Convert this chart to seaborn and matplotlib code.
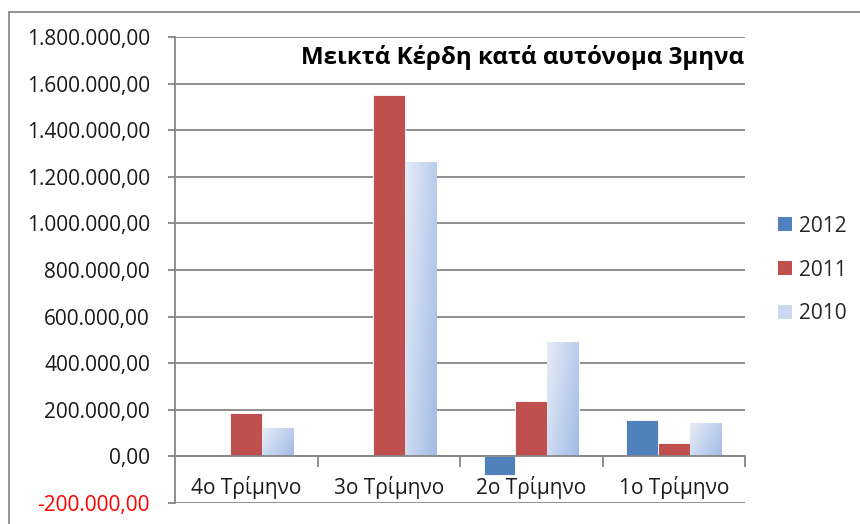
import numpy as np
import pandas as pd
import matplotlib
matplotlib.use("Agg")
import matplotlib.pyplot as plt
import seaborn as sns
from matplotlib.colors import LinearSegmentedColormap
from matplotlib.patches import Rectangle, Patch
from matplotlib.ticker import FuncFormatter, FixedLocator

# chart data
quarters = ["4ο Τρίμηνο", "3ο Τρίμηνο", "2ο Τρίμηνο", "1ο Τρίμηνο"]
years = ["2012", "2011", "2010"]
profit_2012 = [np.nan, np.nan, -81000, 157000]
profit_2011 = [188000, 1550000, 236000, 57000]
profit_2010 = [119000, 1258000, 488000, 140000]
y_ticks = list(range(-200000, 1800001, 200000))
title = "Μεικτά Κέρδη κατά αυτόνομα 3μηνα"

colors = ["#4F81BD", "#C0504D", "#C9D7EF"]
grid_color = "#868686"


def greek_number(v, pos=None):
    # 1,800,000.00 -> 1.800.000,00
    s = "{:,.2f}".format(v)
    return s.replace(",", "X").replace(".", ",").replace("X", ".")


# long-form table for seaborn
df = pd.DataFrame({
    "quarter": quarters * 3,
    "year": [y for y in years for _ in quarters],
    "profit": profit_2012 + profit_2011 + profit_2010,
})

sns.set_style("white")
plt.rcParams["font.family"] = ["Open Sans", "DejaVu Sans"]

fig = plt.figure(figsize=(8.6, 5.24), dpi=100)
ax = fig.add_axes([175 / 860, 1 - 503 / 524, (745 - 175) / 860, (503 - 37) / 524])

sns.barplot(data=df, x="quarter", y="profit", hue="year", order=quarters,
            hue_order=years, palette=colors, saturation=1, width=0.67,
            edgecolor="white", linewidth=0.6, ax=ax, legend=False)

# gradient fill for the 2010 bars
cmap = LinearSegmentedColormap.from_list("grad", ["#E6EDF7", "#A3BBE6"])
gx, gy = np.meshgrid(np.linspace(0, 1, 60), np.linspace(0, 1, 60))
grad = 0.65 * gx + 0.35 * gy
for bar in ax.containers[2]:
    x0, y0 = bar.get_x(), bar.get_y()
    w, h = bar.get_width(), bar.get_height()
    ax.imshow(grad, cmap=cmap, extent=(x0, x0 + w, y0, y0 + h),
              aspect="auto", origin="upper", zorder=bar.get_zorder() + 0.1)

# axes styling
ax.set_xlim(-0.5, 3.5)
ax.set_ylim(-200000, 1800000)
ax.yaxis.set_major_locator(FixedLocator(y_ticks))
ax.yaxis.set_major_formatter(FuncFormatter(greek_number))
ax.grid(axis="y", color=grid_color, linewidth=1.3)
ax.set_axisbelow(True)
for s in ["top", "right"]:
    ax.spines[s].set_visible(False)
ax.spines["left"].set_color(grid_color)
ax.spines["left"].set_linewidth(1.3)
ax.spines["bottom"].set_position(("data", 0))
ax.spines["bottom"].set_color(grid_color)
ax.spines["bottom"].set_linewidth(1.3)

ax.tick_params(axis="y", left=True, length=5, width=1.3, color=grid_color,
               pad=13, labelsize=15, labelcolor="#1a1a1a")
ax.tick_params(axis="x", which="major", length=0, pad=14, labelsize=15,
               labelcolor="#1a1a1a")
ax.set_xticks([0.5, 1.5, 2.5, 3.5], minor=True)
ax.tick_params(axis="x", which="minor", bottom=True, length=8, width=1.3,
               color=grid_color)
ax.yaxis.get_major_ticks()[0].label1.set_color("red")
ax.set_xlabel("")
ax.set_ylabel("")

# title inside the plot area
fig.text((300 + 745) / 2 / 860, 1 - 57 / 524, title, ha="center", va="center",
         fontsize=17.4, fontweight="bold", color="black")

# legend on the right
handles = [Patch(facecolor=c, edgecolor="none") for c in colors]
fig.legend(handles, years, loc="center left",
           bbox_to_anchor=(778 / 860, 1 - 270 / 524), frameon=False,
           fontsize=15, handlelength=0.65, handleheight=0.65,
           handletextpad=0.35, labelspacing=1.1, borderpad=0, borderaxespad=0)

# outer chart frame (cut off at right and bottom)
fig.patches.append(Rectangle((9 / 860, -0.05), 1.2, 1 - 12 / 524 + 0.05,
                             transform=fig.transFigure, fill=False,
                             edgecolor="#8A8A8A", linewidth=1.3))

fig.savefig("out.png", dpi=100)
